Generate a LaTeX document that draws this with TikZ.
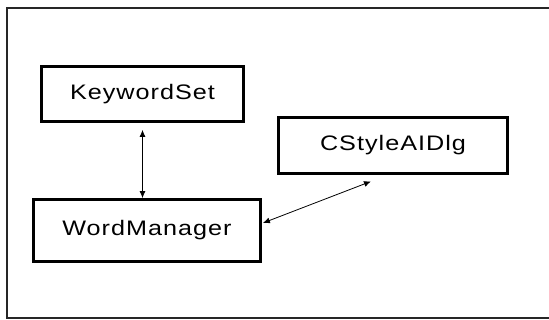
\documentclass[tikz,border=0pt]{standalone}
\usepackage{fontspec}
\usepackage{graphicx}
\usetikzlibrary{arrows.meta}
\newfontfamily\boxfont[LetterSpace=4]{Liberation Sans}
\newcommand{\boxtext}[1]{\scalebox{1.2}[1]{\boxfont\fontsize{21pt}{24pt}\selectfont #1}}

\tikzset{
  classbox/.style={draw, line width=2.8pt, inner sep=0pt, anchor=center},
  link/.style={{Latex[length=7pt,width=6pt]}-{Latex[length=7pt,width=6pt]}, line width=0.8pt},
}

\begin{document}
\begin{tikzpicture}[x=1pt, y=-1pt]
    \useasboundingbox (0,0) rectangle (549,320);
    \draw[line width=1.6pt, black!85] (560,8) -- (7,8) -- (7,318) -- (560,318);

    \node[classbox, minimum width=202pt, minimum height=55pt] (keywords) at (142.5,94) {\boxtext{KeywordSet}};
    \node[classbox, minimum width=227pt, minimum height=62pt] (manager) at (147,230.5) {\boxtext{WordManager}};
    \node[classbox, minimum width=229pt, minimum height=56pt] (styledlg) at (393,145.5) {\boxtext{CStyleAIDlg}};

    \draw[link] ([yshift=-7pt]keywords.south) -- (manager.north -| keywords.south);
    \draw[link] ([yshift=7.5pt,xshift=1pt]manager.east) -- ([xshift=-22pt,yshift=-6.5pt]styledlg.south);
\end{tikzpicture}
\end{document}
